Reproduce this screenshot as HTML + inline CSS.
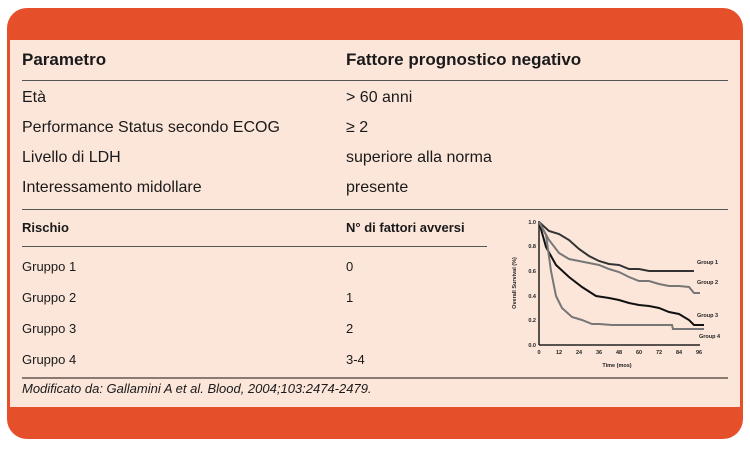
<!DOCTYPE html>
<html><head><meta charset="utf-8"><style>
html,body{margin:0;padding:0;background:#fff;}
body{width:750px;height:450px;position:relative;overflow:hidden;font-family:"Liberation Sans",sans-serif;color:#1a1a1a;}
.box{position:absolute;left:7px;top:8px;width:736px;height:431px;background:#e5502b;border-radius:20px;}
.inner{position:absolute;left:10px;top:40px;width:730px;height:367px;background:#fce6da;}
.t{position:absolute;white-space:nowrap;}
.h{font-size:17px;font-weight:bold;top:50px;}
.r{font-size:16px;}
.s{font-size:13px;}
.line{position:absolute;height:1px;background:#555;}
</style></head><body>
<div class="box"></div>
<div class="inner"></div>
<div class="t h" style="left:22px">Parametro</div>
<div class="t h" style="left:346px">Fattore prognostico negativo</div>
<div class="line" style="left:22px;top:80px;width:706px"></div>
<div class="t r" style="left:22px;top:89px">Età</div>
<div class="t r" style="left:346px;top:89px">&gt; 60 anni</div>
<div class="t r" style="left:22px;top:119px">Performance Status secondo ECOG</div>
<div class="t r" style="left:346px;top:119px">≥ 2</div>
<div class="t r" style="left:22px;top:149px">Livello di LDH</div>
<div class="t r" style="left:346px;top:149px">superiore alla norma</div>
<div class="t r" style="left:22px;top:179px">Interessamento midollare</div>
<div class="t r" style="left:346px;top:179px">presente</div>
<div class="line" style="left:22px;top:209px;width:706px"></div>
<div class="t s" style="left:22px;top:220px;font-weight:bold">Rischio</div>
<div class="t s" style="left:346px;top:220px;font-weight:bold">N° di fattori avversi</div>
<div class="line" style="left:22px;top:246px;width:465px"></div>
<div class="t s" style="left:22px;top:259px">Gruppo 1</div><div class="t s" style="left:346px;top:259px">0</div>
<div class="t s" style="left:22px;top:290px">Gruppo 2</div><div class="t s" style="left:346px;top:290px">1</div>
<div class="t s" style="left:22px;top:321px">Gruppo 3</div><div class="t s" style="left:346px;top:321px">2</div>
<div class="t s" style="left:22px;top:352px">Gruppo 4</div><div class="t s" style="left:346px;top:352px">3-4</div>
<div class="line" style="left:22px;top:377px;width:706px;background:#8a7a72;height:2px"></div>
<div class="t s" style="left:22px;top:381px;font-style:italic">Modificato da: Gallamini A et al. Blood, 2004;103:2474-2479.</div>
<svg style="position:absolute;left:0;top:0" width="750" height="450" font-family="Liberation Sans, sans-serif">
<g stroke="#222" stroke-width="1.5" fill="none">
<line x1="539" y1="221" x2="539" y2="345"/><line x1="539" y1="345" x2="700" y2="345"/>
</g>
<g font-size="5.5" font-weight="bold" fill="#222" text-anchor="end">
<text x="536" y="347">0.0</text><text x="536" y="322">0.2</text><text x="536" y="298">0.4</text><text x="536" y="273">0.6</text><text x="536" y="248">0.8</text><text x="536" y="224">1.0</text>
</g>
<g font-size="5.5" font-weight="bold" fill="#222" text-anchor="middle">
<text x="539" y="354">0</text><text x="559" y="354">12</text><text x="579" y="354">24</text><text x="599" y="354">36</text><text x="619" y="354">48</text><text x="639" y="354">60</text><text x="659" y="354">72</text><text x="679" y="354">84</text><text x="699" y="354">96</text>
<text x="617" y="367">Time (mos)</text>
<text transform="translate(516,283) rotate(-90)">Overall Survival (%)</text>
</g>
<g font-size="5.5" font-weight="bold" fill="#222">
<text x="697" y="264">Group 1</text><text x="697" y="284">Group 2</text><text x="697" y="317">Group 3</text><text x="699" y="338">Group 4</text>
</g>
<g fill="none" stroke-width="2">
<polyline stroke="#333" points="539,222 549,231 559,234 569,240 579,249 589,256 599,261 609,264 619,265 629,269 639,269 649,271 659,271 669,271 679,271 694,271"/>
<polyline stroke="#777" points="539,222 549,240 559,253 569,259 579,261 589,263 599,265 609,269 619,272 629,277 639,281 649,281 659,284 669,286 679,286 689,287 694,293 700,293"/>
<polyline stroke="#111" points="539,222 546,247 556,265 569,277 582,287 596,296 609,298 619,300 629,303 639,305 649,306 659,308 669,312 679,314 689,320 694,325 699,325 704,325"/>
<polyline stroke="#777" points="539,222 546,235 551,271 556,296 562,308 572,317 582,320 592,324 599,324 612,325 629,325 659,325 672,325 673,329 704,329"/>
</g>
</svg>
</body></html>
